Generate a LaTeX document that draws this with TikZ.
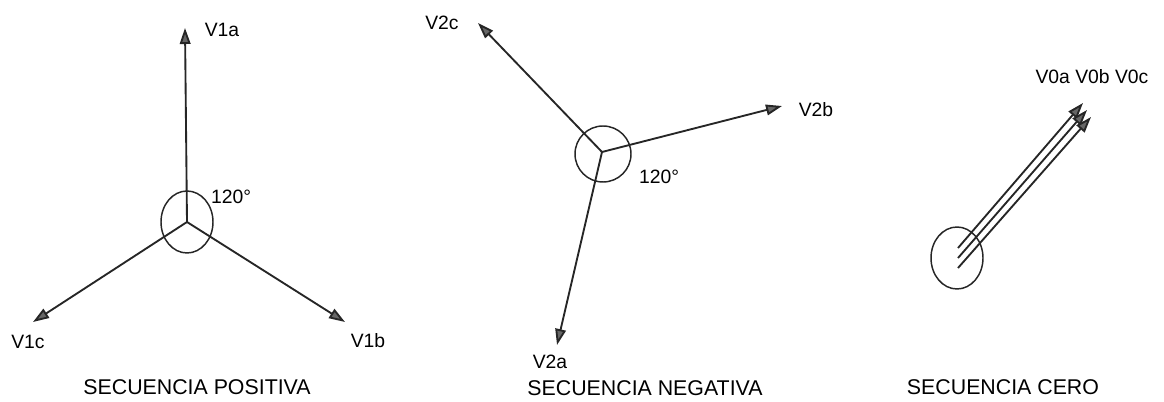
\documentclass[tikz,border=0pt]{standalone}
\usepackage{fontspec}
\setmainfont{Liberation Sans}
\usetikzlibrary{arrows.meta}
\begin{document}
\begin{tikzpicture}[x=0.75pt,y=-0.75pt,
  vec/.style={line width=1.4pt,draw=black!85,-{Triangle[length=12pt,width=8pt,fill=black!60]}},
  ring/.style={line width=1.1pt,draw=black!85},
  lbl/.style={font=\fontsize{14.5}{16}\selectfont,inner sep=0pt},
  ttl/.style={font=\fontsize{16}{18}\selectfont,inner sep=0pt}]
\useasboundingbox (0,0) rectangle (1164,402);
% ---- positive sequence
\coordinate (p0) at (187,222);
\coordinate (pa) at (185,28);
\coordinate (pb) at (345,322);
\coordinate (pc) at (33,322);
\draw[ring] (p0) ellipse [x radius=26, y radius=31];
\draw[vec] (p0) -- (pa);
\draw[vec] (p0) -- (pb);
\draw[vec] (p0) -- (pc);
\node[lbl] (lpa) at (222,30) {V1a};
\node[lbl] (lpb) at (368,341) {V1b};
\node[lbl] (lpc) at (28,342) {V1c};
\node[lbl] (lpang) at (231,197) {120°};
\node[ttl] (tp) at (197,387) {SECUENCIA POSITIVA};
% ---- negative sequence
\coordinate (n0) at (602,152);
\coordinate (na) at (557,345);
\coordinate (nb) at (782,106);
\coordinate (nc) at (478,23);
\draw[ring] (603,154) circle [radius=28];
\draw[vec] (n0) -- (na);
\draw[vec] (n0) -- (nb);
\draw[vec] (n0) -- (nc);
\node[lbl] (lna) at (550,362) {V2a};
\node[lbl] (lnb) at (816,110) {V2b};
\node[lbl] (lnc) at (442,23) {V2c};
\node[lbl] (lnang) at (659,177) {120°};
\node[ttl] (tn) at (645,388) {SECUENCIA NEGATIVA};
% ---- zero sequence
\coordinate (z0) at (957,258);
\coordinate (za0) at (958,248);
\coordinate (zb0) at (958,258);
\coordinate (zc0) at (958,268);
\coordinate (za) at (1083,103);
\coordinate (zb) at (1087,110);
\coordinate (zc) at (1091,117);
\draw[ring] (z0) ellipse [x radius=26, y radius=31];
\draw[vec] (za0) -- (za);
\draw[vec] (zb0) -- (zb);
\draw[vec] (zc0) -- (zc);
\node[lbl] (lz) at (1092,77) {V0a V0b V0c};
\node[ttl] (tz) at (1003,387) {SECUENCIA CERO};
\end{tikzpicture}
\end{document}
